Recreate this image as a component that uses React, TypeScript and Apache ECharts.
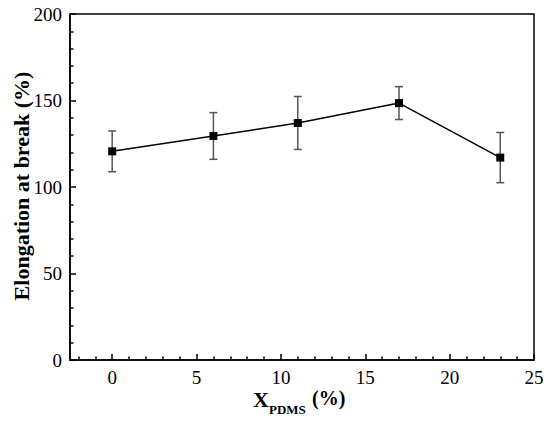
import React, { useEffect, useRef } from "react";
import * as echarts from "echarts";

const xValues = [0, 6, 11, 17, 23];
const yValues = [120.6, 129.5, 137.0, 148.5, 117.0];
const yErrors = [11.8, 13.5, 15.3, 9.5, 14.5];
const xMajorTicks = [0, 5, 10, 15, 20, 25];
const xMinorTicks = [-2, -1, 1, 2, 3, 4, 6, 7, 8, 9, 11, 12, 13, 14, 16, 17, 18, 19, 21, 22, 23, 24];

const FONT = "Liberation Serif";

export default function App() {
  const ref = useRef<HTMLDivElement>(null);
  useEffect(() => {
    document.body.style.margin = "0";
    const chart = echarts.init(ref.current!, null, { renderer: "svg" });
    const lineData = xValues.map((x, i) => [x, yValues[i]]);
    const errData = xValues.map((x, i) => [x, yValues[i], yErrors[i]]);
    chart.setOption({
      animation: false,
      backgroundColor: "#fff",
      textStyle: { fontFamily: FONT },
      grid: {
        left: 70,
        top: 14,
        right: 16,
        bottom: 61,
        show: true,
        borderColor: "#000",
        borderWidth: 1.5,
        backgroundColor: "transparent",
      },
      xAxis: [
        {
          type: "value",
          min: -2.5,
          max: 25,
          splitLine: { show: false },
          axisLine: { show: true, onZero: false, lineStyle: { color: "#000", width: 1.5 } },
          axisTick: {
            show: true,
            inside: true,
            length: 6,
            customValues: xMajorTicks,
            lineStyle: { color: "#000", width: 1.5 },
          },
          axisLabel: {
            customValues: xMajorTicks,
            color: "#000",
            fontFamily: FONT,
            fontSize: 19,
            margin: 8,
          },
        },
        {
          type: "value",
          min: -2.5,
          max: 25,
          position: "bottom",
          splitLine: { show: false },
          axisLine: { show: false },
          axisTick: {
            show: true,
            inside: true,
            length: 3.5,
            customValues: xMinorTicks,
            lineStyle: { color: "#000", width: 1.5 },
          },
          axisLabel: { show: false },
        },
      ],
      yAxis: {
        type: "value",
        min: 0,
        max: 200,
        interval: 50,
        splitLine: { show: false },
        axisLine: { show: true, onZero: false, lineStyle: { color: "#000", width: 1.5 } },
        axisTick: { show: true, inside: true, length: 6, lineStyle: { color: "#000", width: 1.5 } },
        minorTick: { show: true, splitNumber: 5, length: 3.5, lineStyle: { color: "#000", width: 1.5 } },
        axisLabel: { color: "#000", fontFamily: FONT, fontSize: 19, margin: 8 },
      },
      graphic: [
        {
          type: "text",
          x: 21,
          y: 186,
          rotation: Math.PI / 2,
          style: {
            text: "Elongation at break (%)",
            fontFamily: FONT,
            fontWeight: "bold",
            fontSize: 22,
            fill: "#000",
            align: "center",
            verticalAlign: "middle",
          },
        },
        {
          type: "text",
          x: 253,
          y: 399,
          style: {
            text: "X",
            fontFamily: FONT,
            fontWeight: "bold",
            fontSize: 22,
            fill: "#000",
            align: "left",
            verticalAlign: "middle",
          },
        },
        {
          type: "text",
          x: 269,
          y: 409,
          style: {
            text: "PDMS",
            fontFamily: FONT,
            fontWeight: "bold",
            fontSize: 13,
            fill: "#000",
            align: "left",
            verticalAlign: "middle",
          },
        },
        {
          type: "text",
          x: 312,
          y: 398,
          style: {
            text: "(%)",
            fontFamily: FONT,
            fontWeight: "bold",
            fontSize: 20,
            fill: "#000",
            align: "left",
            verticalAlign: "middle",
          },
        },
      ],
      series: [
        {
          type: "custom",
          xAxisIndex: 0,
          yAxisIndex: 0,
          z: 1,
          encode: { x: 0, y: 1 },
          data: errData,
          renderItem: (params: any, api: any) => {
            const x = api.value(0);
            const y = api.value(1);
            const e = api.value(2);
            const top = api.coord([x, y + e]);
            const bot = api.coord([x, y - e]);
            const w = 4;
            const style = { stroke: "#555", lineWidth: 1.5 };
            return {
              type: "group",
              children: [
                { type: "line", shape: { x1: top[0], y1: top[1], x2: bot[0], y2: bot[1] }, style },
                { type: "line", shape: { x1: top[0] - w, y1: top[1], x2: top[0] + w, y2: top[1] }, style },
                { type: "line", shape: { x1: bot[0] - w, y1: bot[1], x2: bot[0] + w, y2: bot[1] }, style },
              ],
            };
          },
        },
        {
          type: "line",
          xAxisIndex: 0,
          yAxisIndex: 0,
          z: 3,
          data: lineData,
          symbol: "rect",
          symbolSize: 8,
          itemStyle: { color: "#000" },
          lineStyle: { color: "#000", width: 1.5 },
        },
      ],
    });
    return () => chart.dispose();
  }, []);
  return <div ref={ref} style={{ width: 550, height: 421 }} />;
}
